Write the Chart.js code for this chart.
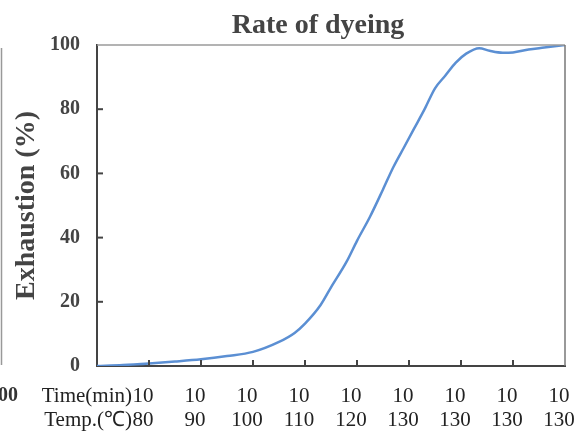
<!DOCTYPE html>
<html>
<head>
<meta charset="utf-8">
<script src="https://cdn.jsdelivr.net/npm/chart.js"></script>
<style>
  html, body { margin: 0; padding: 0; background: #fff; }
  #wrap { width: 585px; height: 431px; }
</style>
</head>
<body>
<div id="wrap"><canvas id="myChart" width="585" height="431"></canvas></div>
<script>
// minutes from start
const timeMin = [0, 5, 10, 15, 20, 25, 30, 35, 38, 40, 43, 45, 48, 50, 52.5, 55, 57, 59, 61, 63, 65, 67, 69, 71, 73.5, 75.5, 78, 80, 83, 86, 90];
const exhaustion = [0, 0.3, 0.8, 1.4, 2.1, 3.1, 4.4, 7.5, 10.3, 13.2, 19, 24.5, 32.5, 39, 46.5, 55, 62, 68, 74, 80, 86.5, 90.5, 94.5, 97.3, 99, 98.2, 97.6, 97.7, 98.6, 99.2, 100];

// x axis steps (end of each 10 min step)
const stepTicks = [10, 20, 30, 40, 50, 60, 70, 80, 90];
const stepTime = ['10', '10', '10', '10', '10', '10', '10', '10', '10'];
const stepTemp = ['80', '90', '100', '110', '120', '130', '130', '130', '130'];
const yTicks = [0, 20, 40, 60, 80, 100];

const serif = "'Liberation Serif', 'Times New Roman', serif";

const innerTicks = {
    id: 'innerTicks',
    afterDatasetsDraw(chart) {
        const { ctx, chartArea, scales } = chart;
        ctx.save();
        // top and right frame
        ctx.lineWidth = 1.5;
        ctx.strokeStyle = '#9a9a9a';
        ctx.beginPath();
        ctx.moveTo(chartArea.left, chartArea.top);
        ctx.lineTo(chartArea.right, chartArea.top);
        ctx.stroke();
        ctx.strokeStyle = '#777';
        ctx.beginPath();
        ctx.moveTo(chartArea.right, chartArea.top);
        ctx.lineTo(chartArea.right, chartArea.bottom);
        ctx.stroke();
        // tick marks pointing inwards
        ctx.strokeStyle = '#444';
        ctx.lineWidth = 2;
        scales.x.ticks.forEach(t => {
            if (t.value <= 0 || t.value >= 90) return;
            const px = scales.x.getPixelForValue(t.value);
            ctx.beginPath();
            ctx.moveTo(px, chartArea.bottom);
            ctx.lineTo(px, chartArea.bottom - 6);
            ctx.stroke();
        });
        scales.y.ticks.forEach(t => {
            if (t.value <= 0 || t.value >= 100) return;
            const py = scales.y.getPixelForValue(t.value);
            ctx.beginPath();
            ctx.moveTo(chartArea.left, py);
            ctx.lineTo(chartArea.left + 6, py);
            ctx.stroke();
        });
        ctx.restore();
    },
    afterDraw(chart) {
        const { ctx, scales } = chart;
        ctx.save();
        // chart title
        ctx.fillStyle = '#444';
        ctx.font = 'bold 28px ' + serif;
        ctx.textAlign = 'center';
        ctx.textBaseline = 'alphabetic';
        ctx.fillText('Rate of dyeing', 318, 33);
        // row captions in front of the first step label
        const x0 = scales.x.getPixelForValue(stepTicks[0]) - 17;
        ctx.fillStyle = '#222';
        ctx.font = '21px ' + serif;
        ctx.textAlign = 'right';
        ctx.fillText('Time(min)', x0, 402);
        ctx.fillText('Temp.(\u2103)', x0, 426);
        // edge of the neighbouring figure
        ctx.fillStyle = '#333';
        ctx.font = 'bold 20px ' + serif;
        ctx.fillText('00', 18, 401);
        ctx.strokeStyle = '#999';
        ctx.lineWidth = 1.5;
        ctx.beginPath();
        ctx.moveTo(1.5, 48);
        ctx.lineTo(1.5, 365);
        ctx.stroke();
        ctx.restore();
    }
};

const ctx = document.getElementById('myChart').getContext('2d');
new Chart(ctx, {
    type: 'line',
    data: {
        datasets: [{
            label: 'Exhaustion',
            data: timeMin.map((t, i) => ({ x: t, y: exhaustion[i] })),
            borderColor: '#5b8fd3',
            borderWidth: 2.5,
            pointRadius: 0,
            cubicInterpolationMode: 'monotone',
            fill: false
        }]
    },
    options: {
        responsive: false,
        animation: false,
        layout: { padding: { top: 45, right: 20, left: 0, bottom: 0 } },
        plugins: {
            legend: { display: false },
            title: { display: false },
            tooltip: { enabled: false }
        },
        scales: {
            x: {
                type: 'linear',
                min: 0,
                max: 90,
                afterBuildTicks: scale => { scale.ticks = stepTicks.map(v => ({ value: v })); },
                afterFit: scale => {
                    scale.height = 65;
                    scale.paddingLeft = 0;
                    scale.paddingRight = 0;
                },
                ticks: {
                    autoSkip: false,
                    maxRotation: 0,
                    minRotation: 0,
                    padding: 18,
                    labelOffset: -6,
                    color: '#222',
                    font: { family: serif, size: 21, lineHeight: 1.15 },
                    callback: value => {
                        const i = stepTicks.indexOf(value);
                        return i < 0 ? '' : [stepTime[i], stepTemp[i]];
                    }
                },
                grid: { drawOnChartArea: false, drawTicks: false },
                border: { color: '#444', width: 2 }
            },
            y: {
                min: 0,
                max: 100,
                afterBuildTicks: scale => { scale.ticks = yTicks.map(v => ({ value: v })); },
                afterFit: scale => {
                    scale.width = 97;
                    scale.paddingTop = 0;
                    scale.paddingBottom = 0;
                },
                ticks: {
                    padding: 17,
                    color: '#444',
                    font: { family: serif, size: 20, weight: 'bold' }
                },
                title: {
                    display: true,
                    text: 'Exhaustion (%)',
                    color: '#444',
                    font: { family: serif, size: 28, weight: 'bold' },
                    padding: { top: 10, bottom: 0 }
                },
                grid: { drawOnChartArea: false, drawTicks: false },
                border: { color: '#444', width: 2 }
            }
        }
    },
    plugins: [innerTicks]
});
</script>
</body>
</html>
